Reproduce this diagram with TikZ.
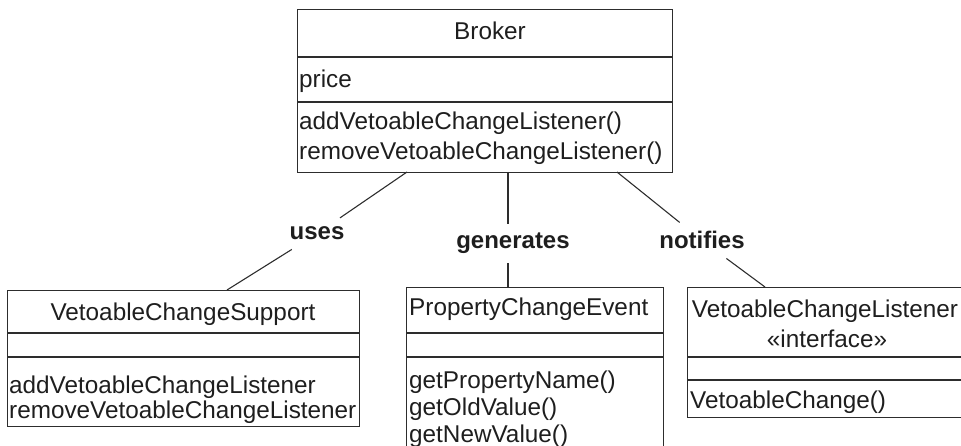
\documentclass[tikz,border=0pt]{standalone}
\usepackage{fontspec}
\setmainfont{Liberation Sans}
\definecolor{linec}{RGB}{45,45,45}
\definecolor{txtc}{RGB}{30,30,30}
\begin{document}
\begin{tikzpicture}[x=1pt,y=-1pt,
  ln/.style={draw=linec, line width=1.1pt},
  umlbox/.style={ln, anchor=north west, inner sep=0pt, minimum width=#1},
  txt/.style={anchor=base west, inner sep=0pt, text=txtc, font=\fontsize{24.3}{28}\selectfont},
  ctxt/.style={txt, anchor=base},
  lbl/.style={anchor=base, inner sep=9pt, text=txtc, font=\bfseries\fontsize{24}{28}\selectfont}]
\useasboundingbox (0,0) rectangle (961,446);
\clip (0,0) rectangle (961,446);
% Broker
\node[umlbox=375pt, minimum height=163pt] (broker) at (297,9) {};
\draw[ln] (297,57) -- (672,57);
\draw[ln] (297,102) -- (672,102);
\node[ctxt] (brokerT) at (490,40) {Broker};
\node[txt] (brokerA) at (299,88) {price};
\node[txt] (brokerM1) at (299,130) {addVetoableChangeListener()};
\node[txt] (brokerM2) at (299,160) {removeVetoableChangeListener()};
% VetoableChangeSupport
\node[umlbox=352pt, minimum height=136pt] (vcs) at (7,290) {};
\draw[ln] (7,333) -- (359,333);
\draw[ln] (7,357) -- (359,357);
\node[ctxt] (vcsT) at (183,320) {VetoableChangeSupport};
\node[txt] (vcsM1) at (9,393) {addVetoableChangeListener};
\node[txt] (vcsM2) at (9,418) {removeVetoableChangeListener};
% PropertyChangeEvent
\node[umlbox=257pt, minimum height=180pt] (pce) at (406,287) {};
\draw[ln] (406,333) -- (663,333);
\draw[ln] (406,357) -- (663,357);
\node[txt] (pceT) at (409,316) {PropertyChangeEvent};
\node[txt] (pceM1) at (409,388) {getPropertyName()};
\node[txt] (pceM2) at (409,415) {getOldValue()};
\node[txt] (pceM3) at (409,442) {getNewValue()};
% VetoableChangeListener
\node[umlbox=300pt, minimum height=130pt] (vcl) at (687,287) {};
\draw[ln] (687,357) -- (987,357);
\draw[ln] (687,380) -- (987,380);
\node[ctxt] (vclT) at (825,318) {VetoableChangeListener};
\node[ctxt] (vclS) at (827,347) {«interface»};
\node[txt] (vclM1) at (690,408) {VetoableChange()};
% labels
\node[lbl] (uses) at (317,240) {uses};
\node[lbl] (gen) at (513,249) {generates};
\node[lbl] (noti) at (702,249) {notifies};
% connector ends
\coordinate (u1) at (407,172);
\coordinate (u2) at (227,290);
\coordinate (g1) at (508,172);
\coordinate (g2) at (508,287);
\coordinate (n1) at (617,172);
\coordinate (n2) at (765,287);
\draw[ln] (u1) -- (uses);
\draw[ln] (uses) -- (u2);
\draw[ln] (g1) -- (g1 |- gen.north);
\draw[ln] (g1 |- gen.south) -- (g2);
\draw[ln] (n1) -- (noti);
\draw[ln] (noti) -- (n2);
\end{tikzpicture}
\end{document}
